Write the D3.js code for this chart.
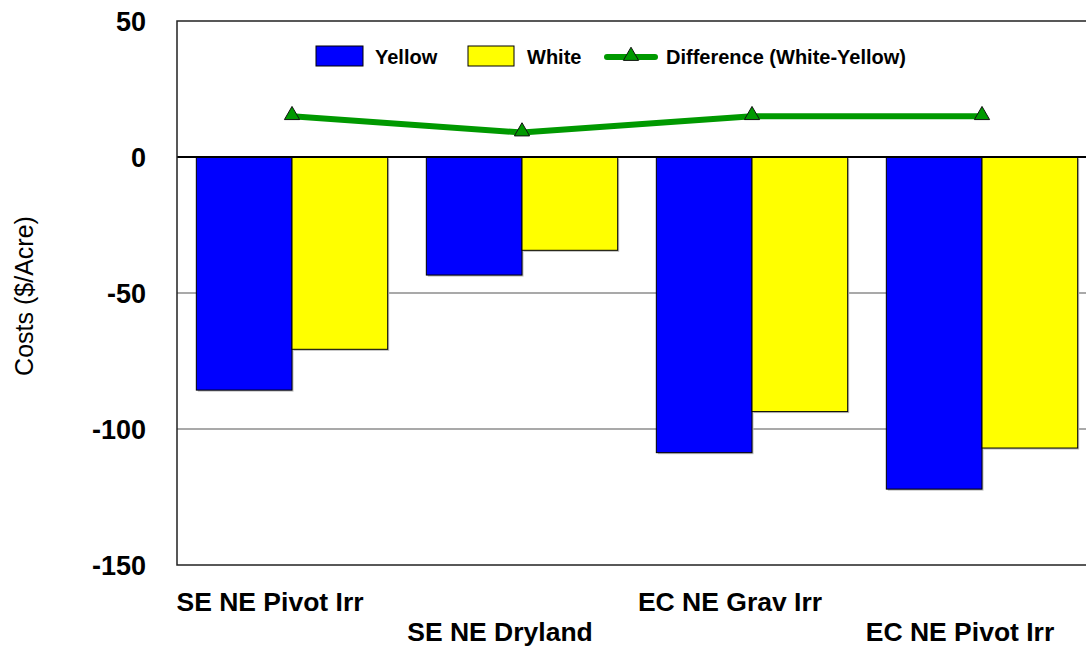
<!DOCTYPE html>
<html lang="en">
    <head>
        <meta charset="utf-8">
        <title>Yellow vs White Costs</title>
        <script src="https://d3js.org/d3.v7.min.js"></script>
        <style type="text/css">
            body {
                margin: 0;
                background: #fff;
            }
            text {
                font-family: "Liberation Sans", Arial, sans-serif;
            }
        </style>
    </head>
    <body>
        <script type="text/javascript">

            //chart data
            const categories = ["SE NE Pivot Irr", "SE NE Dryland", "EC NE Grav Irr", "EC NE Pivot Irr"];
            const yellowCosts = [-85.7, -43.4, -108.7, -122.1];
            const whiteCosts = [-70.7, -34.3, -93.6, -107.0];
            const difference = [15, 9, 15, 15];
            const yTicks = [50, 0, -50, -100, -150];
            const seriesNames = ["Yellow", "White"];

            //sizes
            const w = 1086;
            const h = 651;
            const plotLeft = 177;
            const plotRight = 1097; //plot runs past the window edge
            const plotTop = 21;
            const plotBottom = 565;

            const svg = d3.select("body")
                .append("svg")
                .attr("width", w)
                .attr("height", h);

            //scales
            const xScale = d3.scaleBand()
                .domain(categories)
                .range([plotLeft, plotRight])
                .paddingInner(0.168)
                .paddingOuter(0.084);

            const xInner = d3.scaleBand()
                .domain(seriesNames)
                .range([0, xScale.bandwidth()]);

            const yScale = d3.scaleLinear()
                .domain([-150, 50])
                .range([plotBottom, plotTop]);

            const colors = {Yellow: "#0000ff", White: "#ffff00"};

            //gridlines
            svg.append("g")
                .selectAll("line")
                .data([-50, -100])
                .join("line")
                .attr("x1", plotLeft)
                .attr("x2", plotRight)
                .attr("y1", d => yScale(d))
                .attr("y2", d => yScale(d))
                .attr("stroke", "#555")
                .attr("stroke-width", 1.2);

            //bars
            const rows = categories.map((c, i) => ({
                cat: c,
                values: [
                    {name: "Yellow", value: yellowCosts[i]},
                    {name: "White", value: whiteCosts[i]}
                ]
            }));

            const groups = svg.append("g")
                .selectAll("g")
                .data(rows)
                .join("g")
                .attr("transform", d => "translate(" + xScale(d.cat) + ",0)");

            //soft shadow
            groups.selectAll("rect.shadow")
                .data(d => d.values)
                .join("rect")
                .attr("class", "shadow")
                .attr("x", d => xInner(d.name) + 1.5)
                .attr("y", yScale(0) + 1.5)
                .attr("width", xInner.bandwidth())
                .attr("height", d => yScale(d.value) - yScale(0))
                .attr("fill", "#bbb");

            groups.selectAll("rect.bar")
                .data(d => d.values)
                .join("rect")
                .attr("class", "bar")
                .attr("x", d => xInner(d.name))
                .attr("y", yScale(0))
                .attr("width", xInner.bandwidth())
                .attr("height", d => yScale(d.value) - yScale(0))
                .attr("fill", d => colors[d.name])
                .attr("stroke", "#000")
                .attr("stroke-width", 1);

            //zero line and frame
            svg.append("line")
                .attr("x1", plotLeft)
                .attr("x2", plotRight)
                .attr("y1", yScale(0))
                .attr("y2", yScale(0))
                .attr("stroke", "#000")
                .attr("stroke-width", 2);

            svg.append("rect")
                .attr("x", plotLeft)
                .attr("y", plotTop)
                .attr("width", plotRight - plotLeft)
                .attr("height", plotBottom - plotTop)
                .attr("fill", "none")
                .attr("stroke", "#222")
                .attr("stroke-width", 1.5);

            //difference line
            const line = d3.line()
                .x((d, i) => xScale(categories[i]) + xScale.bandwidth() / 2)
                .y(d => yScale(d));

            svg.append("path")
                .attr("d", line(difference))
                .attr("fill", "none")
                .attr("stroke", "#009900")
                .attr("stroke-width", 6);

            const triangle = d3.symbol().type(d3.symbolTriangle).size(100);

            svg.append("g")
                .selectAll("path")
                .data(difference)
                .join("path")
                .attr("d", triangle)
                .attr("transform", (d, i) => "translate(" + (xScale(categories[i]) + xScale.bandwidth() / 2) + "," + (yScale(d) - 1) + ")")
                .attr("fill", "#009900")
                .attr("stroke", "#111")
                .attr("stroke-width", 1);

            //left axis
            const leftAxis = d3.axisLeft(yScale)
                .tickValues(yTicks)
                .tickSize(0)
                .tickPadding(31)
                .tickFormat(d => String(d));

            const yAxis = svg.append("g")
                .attr("transform", "translate(" + plotLeft + ",0)")
                .call(leftAxis);

            yAxis.select(".domain").remove();
            yAxis.selectAll("text")
                .attr("font-size", "27px")
                .attr("font-weight", "bold")
                .attr("fill", "#000")
                .attr("dy", "0.36em")
                .style("font-family", "'Liberation Sans', Arial, sans-serif");

            //category labels, staggered in two rows
            svg.append("g")
                .selectAll("text")
                .data(categories)
                .join("text")
                .attr("x", d => xScale(d) + xScale.bandwidth() / 2 - 22)
                .attr("y", (d, i) => i % 2 === 0 ? 611 : 641)
                .attr("text-anchor", "middle")
                .attr("font-size", "26.5px")
                .attr("font-weight", "bold")
                .attr("fill", "#000")
                .text(d => d);

            //y axis title
            svg.append("text")
                .attr("transform", "translate(33,296) rotate(-90)")
                .attr("text-anchor", "middle")
                .attr("font-size", "25px")
                .attr("fill", "#000")
                .text("Costs ($/Acre)");

            //legend
            const legend = svg.append("g");

            legend.append("rect")
                .attr("x", 316).attr("y", 46)
                .attr("width", 47).attr("height", 20)
                .attr("fill", colors.Yellow)
                .attr("stroke", "#000");

            legend.append("text")
                .attr("x", 375).attr("y", 64)
                .attr("font-size", "20px").attr("font-weight", "bold")
                .text(seriesNames[0]);

            legend.append("rect")
                .attr("x", 468).attr("y", 46)
                .attr("width", 46).attr("height", 20)
                .attr("fill", colors.White)
                .attr("stroke", "#000");

            legend.append("text")
                .attr("x", 527).attr("y", 64)
                .attr("font-size", "20px").attr("font-weight", "bold")
                .text(seriesNames[1]);

            legend.append("line")
                .attr("x1", 607).attr("x2", 655)
                .attr("y1", 57).attr("y2", 57)
                .attr("stroke", "#009900")
                .attr("stroke-width", 6)
                .attr("stroke-linecap", "round");

            legend.append("path")
                .attr("d", triangle)
                .attr("transform", "translate(631,56)")
                .attr("fill", "#009900")
                .attr("stroke", "#111");

            legend.append("text")
                .attr("x", 666).attr("y", 64)
                .attr("font-size", "20px").attr("font-weight", "bold")
                .text("Difference (White-Yellow)");

        </script>
    </body>
</html>
